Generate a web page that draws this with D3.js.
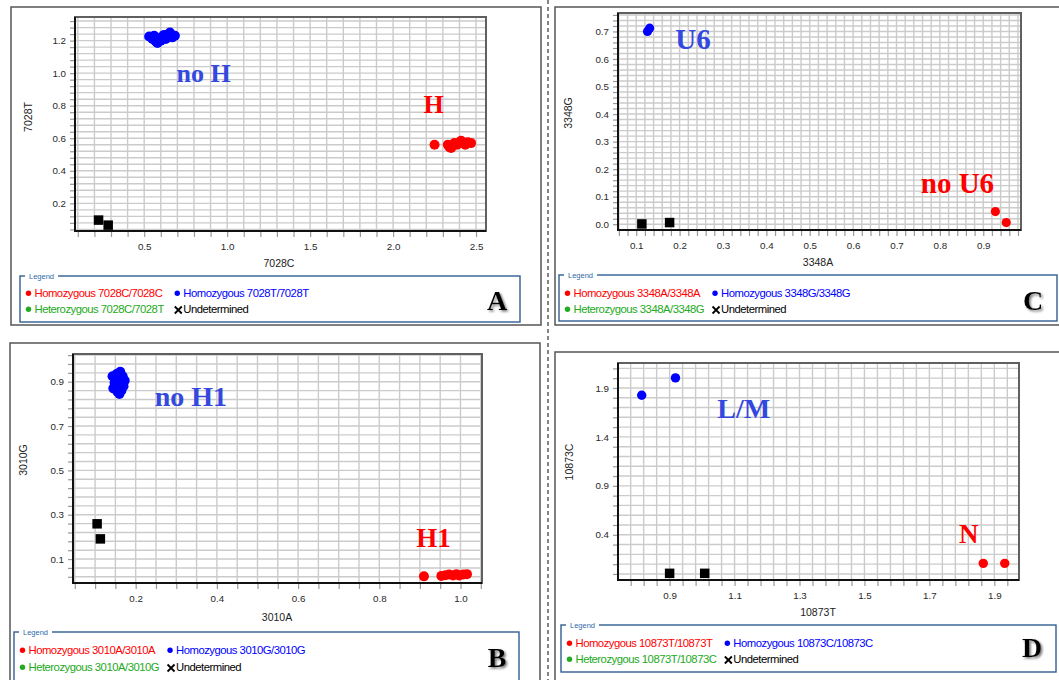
<!DOCTYPE html>
<html>
<head>
<meta charset="utf-8">
<script src="https://cdn.jsdelivr.net/npm/d3@7"></script>
<style>
  body { margin: 0; background: #fff; }
  svg text { font-family: "Liberation Sans", Arial, sans-serif; }
  svg text.serif { font-family: "Liberation Serif", "Times New Roman", serif; font-weight: bold; }
</style>
</head>
<body>
<svg id="fig" width="1059" height="680"></svg>
<script>
// ---- A: 7028 C/T ----
const aRed = [[2.25,0.56],[2.33,0.56],[2.34,0.545],[2.35,0.54],[2.36,0.555],[2.37,0.57],[2.385,0.56],[2.40,0.575],[2.41,0.585],[2.42,0.57],[2.435,0.56],[2.45,0.575],[2.47,0.57]];
const aBlue = [[0.53,1.225],[0.55,1.21],[0.56,1.23],[0.57,1.195],[0.58,1.185],[0.59,1.215],[0.60,1.20],[0.61,1.225],[0.62,1.235],[0.63,1.21],[0.64,1.235],[0.655,1.25],[0.67,1.22],[0.685,1.23]];
const aUndet = [[0.225,0.097],[0.283,0.066]];
const aXTicks = [0.5,1.0,1.5,2.0,2.5];
const aYTicks = [0.2,0.4,0.6,0.8,1.0,1.2];
const aLegend = ["Homozygous 7028C/7028C","Homozygous 7028T/7028T","Heterozygous 7028C/7028T","Undetermined"];

// ---- B: 3010 A/G ----
const bRed = [[0.91,0.022],[0.953,0.024],[0.963,0.027],[0.972,0.03],[0.982,0.026],[0.99,0.032],[0.997,0.026],[1.007,0.03],[1.016,0.032]];
const bBlue = [[0.143,0.925],[0.148,0.895],[0.15,0.87],[0.155,0.855],[0.16,0.845],[0.165,0.86],[0.17,0.88],[0.173,0.905],[0.168,0.925],[0.162,0.945],[0.158,0.915],[0.153,0.935],[0.163,0.895],[0.145,0.87]];
const bUndet = [[0.105,0.259],[0.113,0.191]];
const bXTicks = [0.2,0.4,0.6,0.8,1.0];
const bYTicks = [0.1,0.3,0.5,0.7,0.9];
const bLegend = ["Homozygous 3010A/3010A","Homozygous 3010G/3010G","Heterozygous 3010A/3010G","Undetermined"];

// ---- C: 3348 A/G ----
const cRed = [[0.928,0.046],[0.953,0.006]];
const cBlue = [[0.126,0.700],[0.131,0.712]];
const cUndet = [[0.113,0.001],[0.177,0.006]];
const cXTicks = [0.1,0.2,0.3,0.4,0.5,0.6,0.7,0.8,0.9];
const cYTicks = [0.0,0.1,0.2,0.3,0.4,0.5,0.6,0.7];
const cLegend = ["Homozygous 3348A/3348A","Homozygous 3348G/3348G","Heterozygous 3348A/3348G","Undetermined"];

// ---- D: 10873 T/C ----
const dRed = [[1.866,0.108],[1.932,0.108]];
const dBlue = [[0.814,1.826],[0.918,2.003]];
const dUndet = [[0.9,0.006],[1.008,0.006]];
const dXTicks = [0.9,1.1,1.3,1.5,1.7,1.9];
const dYTicks = [0.4,0.9,1.4,1.9];
const dLegend = ["Homozygous 10873T/10873T","Homozygous 10873C/10873C","Heterozygous 10873T/10873C","Undetermined"];

const RED = "#ff0000", BLUE = "#0000ff", GREEN = "#22aa22";
const LBL_BLUE = "#3348de", LBL_RED = "#ff0000";

const panels = [
  { letter:"A", frame:[11,7,530,318], plot:[75,17,486,231],
    xDomain:[0.083,2.56], yDomain:[0.03,1.345], xGrid:[0.1,0.1], yGrid:[0.04,0.04],
    xTicks:aXTicks, yTicks:aYTicks, red:aRed, blue:aBlue, undet:aUndet, r:5,
    xTitle:"7028C", yTitle:"7028T", xTitlePos:[279,267], yTitlePos:[31.5,117],
    notes:[{t:"no H", x:0.695, y:0.948, c:LBL_BLUE, s:26},{t:"H", x:2.184, y:0.754, c:LBL_RED, s:26}],
    legend:{box:[20,276,500,46], texts:aLegend, rows:[297,313]}, letterPos:[497,310] },
  { letter:"B", frame:[10,343,530,345], plot:[73,354,482,583],
    xDomain:[0.0456,1.053], yDomain:[-0.008,1.025], xGrid:[0.05,0.05], yGrid:[0.02,0.04],
    xTicks:bXTicks, yTicks:bYTicks, red:bRed, blue:bBlue, undet:bUndet, r:5,
    xTitle:"3010A", yTitle:"3010G", xTitlePos:[277,621], yTitlePos:[26.5,460],
    notes:[{t:"no H1", x:0.247, y:0.792, c:LBL_BLUE, s:28},{t:"H1", x:0.891, y:0.154, c:LBL_RED, s:27}],
    legend:{box:[14,632,505,52], texts:bLegend, rows:[654,671]}, letterPos:[497,667] },
  { letter:"C", frame:[555,7,510,318], plot:[618,13,1021,230],
    xDomain:[0.058,0.987], yDomain:[-0.021,0.767], xGrid:[0.02,0.02], yGrid:[0.0,0.02],
    xTicks:cXTicks, yTicks:cYTicks, red:cRed, blue:cBlue, undet:cUndet, r:4.6,
    xTitle:"3348A", yTitle:"3348G", xTitlePos:[818,266], yTitlePos:[571.5,113],
    notes:[{t:"U6", x:0.19, y:0.636, c:LBL_BLUE, s:29},{t:"no U6", x:0.756, y:0.113, c:LBL_RED, s:29}],
    legend:{box:[559,275,498,46], texts:cLegend, rows:[297,313]}, letterPos:[1033,310] },
  { letter:"D", frame:[555,352,510,330], plot:[618,363,1019,580],
    xDomain:[0.741,1.976], yDomain:[-0.062,2.155], xGrid:[0.74,0.04], yGrid:[0.0,0.1],
    xTicks:dXTicks, yTicks:dYTicks, red:dRed, blue:dBlue, undet:dUndet, r:4.7,
    xTitle:"10873T", yTitle:"10873C", xTitlePos:[818,615.5], yTitlePos:[572.5,462],
    notes:[{t:"L/M", x:1.047, y:1.591, c:LBL_BLUE, s:28},{t:"N", x:1.791, y:0.312, c:LBL_RED, s:27}],
    legend:{box:[561,625,495,47], texts:dLegend, rows:[647,663]}, letterPos:[1032,657] }
];

const svg = d3.select("#fig");
const defs = svg.append("defs");
defs.append("filter").attr("id","shadow").attr("x","-30%").attr("y","-30%").attr("width","160%").attr("height","160%")
  .append("feDropShadow").attr("dx",1.6).attr("dy",1.6).attr("stdDeviation",1.1).attr("flood-color","#777");

// grid positions: start + k*step inside the domain
function gridValues([start, step], [lo, hi]) {
  const out = [];
  for (let k = 0; ; k++) {
    const v = +(start + k * step).toFixed(6);
    if (v > hi) break;
    if (v >= lo) out.push(v);
  }
  return out;
}

// separator between the four panels
svg.append("line").attr("x1",548).attr("x2",548).attr("y1",0).attr("y2",680)
  .attr("stroke","#333").attr("stroke-width",1.2).attr("stroke-dasharray","4,3");

panels.forEach(p => {
  const g = svg.append("g");
  const [fx, fy, fw, fh] = p.frame;
  g.append("rect").attr("x",fx).attr("y",fy).attr("width",fw).attr("height",fh)
    .attr("fill","#fff").attr("stroke","#555").attr("stroke-width",1.5);

  const [l, t, r, b] = p.plot;
  const x = d3.scaleLinear().domain(p.xDomain).range([l, r]);
  const y = d3.scaleLinear().domain(p.yDomain).range([b, t]);
  const xs = gridValues(p.xGrid, p.xDomain);
  const ys = gridValues(p.yGrid, p.yDomain);

  // grid lines
  g.append("g").selectAll("line").data(xs).join("line")
    .attr("x1", d => x(d)).attr("x2", d => x(d)).attr("y1", t).attr("y2", b)
    .attr("stroke", "#cbcbcb").attr("stroke-width", 1.4);
  g.append("g").selectAll("line").data(ys).join("line")
    .attr("y1", d => y(d)).attr("y2", d => y(d)).attr("x1", l).attr("x2", r)
    .attr("stroke", "#cbcbcb").attr("stroke-width", 1.4);

  // minor tick marks at every grid line
  const minorX = g.append("g").attr("transform", `translate(0,${b})`)
    .call(d3.axisBottom(x).tickValues(xs).tickSize(6).tickSizeOuter(0).tickFormat(""));
  const minorY = g.append("g").attr("transform", `translate(${l},0)`)
    .call(d3.axisLeft(y).tickValues(ys).tickSize(5).tickSizeOuter(0).tickFormat(""));
  [minorX, minorY].forEach(a => {
    a.select(".domain").remove();
    a.selectAll(".tick line").attr("stroke", "#9a9a9a").attr("stroke-width", 1.2);
  });

  // labelled ticks
  const fmt = d3.format(".1f");
  const xAx = g.append("g").attr("transform", `translate(0,${b})`)
    .call(d3.axisBottom(x).tickValues(p.xTicks).tickSize(0).tickPadding(12.5).tickFormat(fmt));
  const yAx = g.append("g").attr("transform", `translate(${l},0)`)
    .call(d3.axisLeft(y).tickValues(p.yTicks).tickSize(0).tickPadding(9).tickFormat(fmt));
  [xAx, yAx].forEach(a => {
    a.select(".domain").remove();
    a.selectAll("text").attr("font-family", null)
      .attr("font-size", 9.8).attr("fill", "#2a2a2a");
  });

  // plot border: grey top/right, black left/bottom
  g.append("rect").attr("x", l).attr("y", t).attr("width", r - l).attr("height", b - t)
    .attr("fill", "none").attr("stroke", "#606060").attr("stroke-width", 2);
  g.append("path").attr("d", `M${l},${t}V${b}H${r}`).attr("fill", "none")
    .attr("stroke", "#111").attr("stroke-width", 2);

  // axis titles
  g.append("text").attr("x", p.xTitlePos[0]).attr("y", p.xTitlePos[1])
    .attr("text-anchor", "middle").attr("font-size", 10.5).attr("fill", "#222").text(p.xTitle);
  g.append("text").attr("transform", `translate(${p.yTitlePos[0]},${p.yTitlePos[1]}) rotate(-90)`)
    .attr("text-anchor", "middle").attr("font-size", 10.5).attr("fill", "#222").text(p.yTitle);

  // points
  const pts = g.append("g");
  pts.selectAll("circle.blue").data(p.blue).join("circle").attr("class", "blue")
    .attr("cx", d => x(d[0])).attr("cy", d => y(d[1])).attr("r", p.r).attr("fill", BLUE);
  pts.selectAll("circle.red").data(p.red).join("circle").attr("class", "red")
    .attr("cx", d => x(d[0])).attr("cy", d => y(d[1])).attr("r", p.r).attr("fill", RED);
  const s = 9.5;
  pts.selectAll("rect").data(p.undet).join("rect")
    .attr("x", d => x(d[0]) - s / 2).attr("y", d => y(d[1]) - s / 2)
    .attr("width", s).attr("height", s).attr("fill", "#000");

  // cluster annotations
  g.selectAll("text.note").data(p.notes).join("text").attr("class", "note serif")
    .attr("x", d => x(d.x)).attr("y", d => y(d.y))
    .attr("font-size", d => d.s).attr("fill", d => d.c).text(d => d.t);

  // legend
  const L = p.legend;
  const [lx, ly, lw, lh] = L.box;
  const lg = g.append("g");
  lg.append("rect").attr("x", lx).attr("y", ly).attr("width", lw).attr("height", lh)
    .attr("fill", "none").attr("stroke", "#2f5f92").attr("stroke-width", 1.4);
  const title = lg.append("text").attr("x", lx + 9).attr("y", ly + 2.5)
    .attr("font-size", 7.5).attr("fill", "#2f6aa8").text("Legend");
  const tw = title.node().getComputedTextLength();
  lg.insert("rect", "text").attr("x", lx + 5).attr("y", ly - 2).attr("width", tw + 8).attr("height", 4).attr("fill", "#fff");

  const col1 = lx + 8.5, col1Text = col1 + 6;
  const colors = [RED, BLUE, GREEN, "#000"];
  const t0 = lg.append("text").attr("x", col1Text).attr("y", L.rows[0]).attr("font-size", 11.3)
    .attr("letter-spacing", -0.5).attr("fill", colors[0]).text(L.texts[0]);
  const col2 = col1Text + t0.node().getComputedTextLength() + 15, col2Text = col2 + 6;
  const items = [
    { x: col1, tx: col1Text, y: L.rows[0] }, { x: col2, tx: col2Text, y: L.rows[0] },
    { x: col1, tx: col1Text, y: L.rows[1] }, { x: col2, tx: col2Text, y: L.rows[1] }
  ];
  items.forEach((it, i) => {
    if (i > 0) lg.append("text").attr("x", it.tx).attr("y", it.y).attr("font-size", 11.3)
      .attr("letter-spacing", -0.5).attr("fill", colors[i]).text(L.texts[i]);
    if (i < 3) {
      lg.append("circle").attr("cx", it.x).attr("cy", it.y - 3.8).attr("r", 2.7).attr("fill", colors[i]);
    } else {
      const cx = it.x + 1, cy = it.y - 3;
      lg.append("path").attr("d", `M${cx-3.5},${cy-3.5}L${cx+3.5},${cy+3.5}M${cx+3.5},${cy-3.5}L${cx-3.5},${cy+3.5}`)
        .attr("stroke", "#000").attr("stroke-width", 1.8);
    }
  });

  // panel letter
  g.append("text").attr("class", "serif").attr("x", p.letterPos[0]).attr("y", p.letterPos[1])
    .attr("text-anchor", "middle").attr("font-size", 28).attr("fill", "#000")
    .attr("filter", "url(#shadow)").text(p.letter);
});
</script>
</body>
</html>
